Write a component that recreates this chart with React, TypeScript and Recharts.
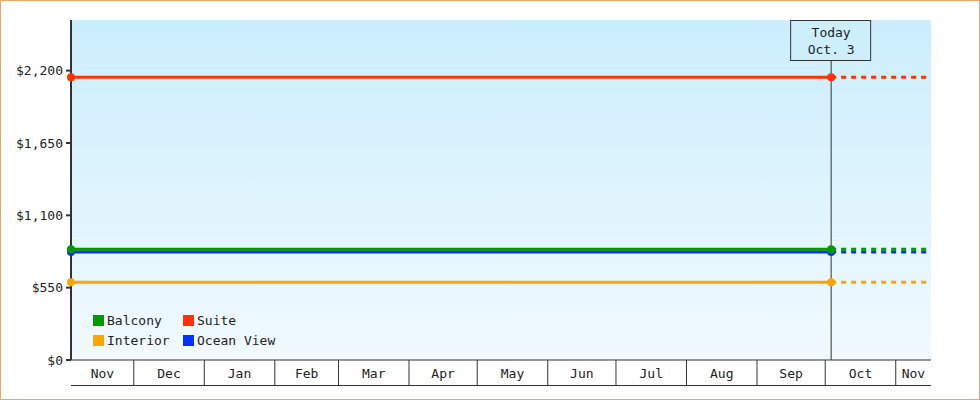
import React from 'react';
import { LineChart, Line, XAxis, YAxis, CartesianGrid, ReferenceLine } from 'recharts';

// days counted from Dec 1 (first full month on the axis)
const pointDays = [-27.6, 306.6, 350.5]; // first seen, today, end of forecast
const monthLabels = ['Nov', 'Dec', 'Jan', 'Feb', 'Mar', 'Apr', 'May', 'Jun', 'Jul', 'Aug', 'Sep', 'Oct', 'Nov'];
const monthStartDays = [0, 31, 62, 90, 121, 151, 182, 212, 243, 274, 304, 335];
const priceTicks = [0, 550, 1100, 1650, 2200];
const priceMax = 2585;

const seriesNames = ['Balcony', 'Suite', 'Interior', 'Ocean View'];
const balconyPrices = [842, 842, 842];
const suitePrices = [2149, 2149, 2149];
const interiorPrices = [591, 591, 591];
const oceanViewPrices = [821, 821, 821];

const colors: Record<string, string> = {
  Balcony: '#009900',
  Suite: '#ff3300',
  Interior: '#ffa500',
  'Ocean View': '#0033ff',
};
const values: Record<string, number[]> = {
  Balcony: balconyPrices,
  Suite: suitePrices,
  Interior: interiorPrices,
  'Ocean View': oceanViewPrices,
};
const drawOrder = ['Suite', 'Interior', 'Ocean View', 'Balcony'];
const TODAY = pointDays[1];
const FONT = "'DejaVu Sans Mono', monospace";

const data = pointDays.map((day, i) => {
  const row: Record<string, number | null> = { day };
  seriesNames.forEach((name) => {
    row[name] = i <= 1 ? values[name][i] : null;
    row[name + ' f'] = i >= 1 ? values[name][i] : null;
  });
  return row;
});

const bounds = [pointDays[0], ...monthStartDays, pointDays[2]];
const labelTicks = bounds.slice(0, -1).map((b, i) => (b + bounds[i + 1]) / 2);
const allTicks = [...bounds, ...labelTicks].sort((a, b) => a - b);

const money = (v: number) => '$' + v.toLocaleString('en-US');

// month band: separators at month starts, label in the middle, base line under the row
function MonthTick(props: any) {
  const { x, y, payload, width } = props;
  const v = payload.value;
  const li = labelTicks.indexOf(v);
  if (li >= 0) {
    return (
      <text x={x} y={y + 18} textAnchor="middle" fontSize={13} fontFamily={FONT} fill="#222">
        {monthLabels[li]}
      </text>
    );
  }
  if (v === pointDays[0]) {
    return <line x1={x} x2={x + width} y1={y + 25.5} y2={y + 25.5} stroke="#333" />;
  }
  if (monthStartDays.includes(v)) {
    return <line x1={x} x2={x} y1={y} y2={y + 25} stroke="#333" />;
  }
  return <g />;
}

function TodayLabel({ viewBox }: any) {
  const { x, y } = viewBox;
  return (
    <g>
      <rect x={x - 40.5} y={y + 0.5} width={80} height={40} fill="#cdeffc" stroke="#333" />
      <text x={x} y={y + 17} textAnchor="middle" fontSize={13} fontFamily={FONT} fill="#222">
        Today
      </text>
      <text x={x} y={y + 34} textAnchor="middle" fontSize={13} fontFamily={FONT} fill="#222">
        Oct. 3
      </text>
    </g>
  );
}

export default function App() {
  return (
    <div style={{ position: 'absolute', left: 0, top: 0, width: 980, height: 400, background: '#fff' }}>
      <LineChart width={980} height={400} data={data} margin={{ top: 20, right: 49, bottom: 15, left: 0 }}>
        <defs>
          <linearGradient id="plotBg" x1="0" y1="0" x2="0" y2="1">
            <stop offset="0%" stopColor="#cbeefc" />
            <stop offset="100%" stopColor="#f1faff" />
          </linearGradient>
        </defs>
        <CartesianGrid horizontal={false} vertical={false} fill="url(#plotBg)" />
        <XAxis
          dataKey="day"
          type="number"
          domain={[pointDays[0], pointDays[2]]}
          ticks={allTicks}
          interval={0}
          tickLine={false}
          tickSize={0}
          tickMargin={0}
          axisLine={{ stroke: '#333' }}
          height={25}
          tick={<MonthTick />}
        />
        <YAxis
          type="number"
          domain={[0, priceMax]}
          ticks={priceTicks}
          tickFormatter={money}
          width={71}
          tickSize={5}
          tickMargin={3}
          axisLine={{ stroke: '#333', strokeWidth: 2 }}
          tickLine={{ stroke: '#333', strokeWidth: 2 }}
          tick={{ fill: '#222', fontSize: 13, fontFamily: FONT }}
        />
        <ReferenceLine x={TODAY} stroke="#333" label={<TodayLabel />} />
        {drawOrder.map((name) => (
          <Line
            key={name + ' f'}
            dataKey={name + ' f'}
            stroke={colors[name]}
            strokeWidth={3}
            strokeDasharray="5 5"
            dot={false}
            activeDot={false}
            isAnimationActive={false}
          />
        ))}
        {drawOrder.map((name) => (
          <Line
            key={name}
            dataKey={name}
            stroke={colors[name]}
            strokeWidth={3}
            dot={{ r: 4, fill: colors[name], stroke: 'none' }}
            activeDot={false}
            isAnimationActive={false}
          />
        ))}
      </LineChart>
      <div
        style={{
          position: 'absolute',
          left: 93,
          top: 310,
          display: 'grid',
          gridTemplateColumns: '90px 110px',
          fontFamily: FONT,
          fontSize: 13,
          color: '#222',
        }}
      >
        {seriesNames.map((name) => (
          <div key={name} style={{ display: 'flex', alignItems: 'center', height: 20 }}>
            <span style={{ width: 11, height: 11, background: colors[name], marginRight: 3 }} />
            {name}
          </div>
        ))}
      </div>
      <div
        style={{
          position: 'absolute',
          inset: 0,
          border: '1px solid #eaa968',
          pointerEvents: 'none',
        }}
      />
    </div>
  );
}
